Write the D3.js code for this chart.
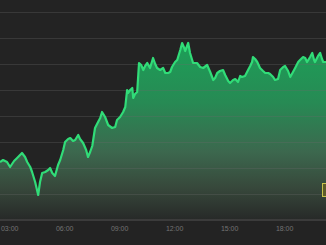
<!DOCTYPE html>
<html>
<head>
<meta charset="utf-8">
<script src="https://cdn.jsdelivr.net/npm/d3@7"></script>
<style>
  html, body { margin: 0; padding: 0; background: #232323; }
  svg { display: block; }
</style>
</head>
<body>
<svg id="chart" width="326" height="245"></svg>
<script>
// price readings (time of day, points)
var times = ["02:30","02:40","02:53","03:03","03:16","03:26","03:42","03:52","03:59","04:09",
  "04:15","04:25","04:35","04:41","04:48","04:58","05:08","05:14","05:21","05:30",
  "05:40","05:47","05:57","06:03","06:13","06:20","06:29","06:36","06:46","06:52",
  "07:02","07:12","07:18","07:25","07:32","07:41","07:51","07:58","08:04","08:14",
  "08:24","08:37","08:47","08:53","09:03","09:13","09:20","09:26","09:29","09:36",
  "09:43","09:46","09:52","09:59","10:05","10:12","10:19","10:25","10:32","10:41",
  "10:51","10:58","11:04","11:14","11:24","11:31","11:40","11:47","11:53","12:03",
  "12:10","12:20","12:26","12:33","12:36","12:46","12:52","13:02","13:15","13:25",
  "13:35","13:48","13:58","14:08","14:14","14:21","14:30","14:40","14:47","14:57",
  "15:03","15:13","15:20","15:29","15:36","15:42","15:52","16:02","16:09","16:15",
  "16:18","16:25","16:32","16:41","16:51","16:58","17:08","17:14","17:24","17:30",
  "17:40","17:47","17:57","18:03","18:13","18:20","18:29","18:36","18:46","18:52",
  "19:02","19:09","19:15","19:25","19:32","19:38","19:41","19:51","19:58","20:04",
  "20:08","20:17"];

var prices = [58,60,58,53,59,62,67,63,58,53,
  48,38,25,38,47,48,50,52,47,44,
  55,60,70,78,81,82,79,80,85,81,
  77,70,63,68,74,92,98,102,108,103,
  95,92,93,100,103,108,113,130,127,130,
  132,122,126,128,157,155,150,154,157,152,
  162,156,152,150,152,147,147,148,153,158,
  160,170,177,172,169,177,167,157,157,153,
  152,155,148,140,142,147,149,150,145,139,
  137,140,141,138,144,143,144,150,154,158,
  163,161,158,152,149,147,147,146,143,140,
  141,150,153,154,149,143,148,152,158,160,
  163,162,158,163,167,160,158,164,167,161,
  158,158];

var gridTicks = [26, 52, 78, 104, 130, 156, 182, 208];

var width = 326, height = 245, axisY = 220;
var parseTime = d3.timeParse("%H:%M");

var data = times.map(function (t, i) {
  return { date: parseTime(t), value: prices[i] };
});

var x = d3.scaleTime()
  .domain(d3.extent(data, function (d) { return d.date; }))
  .range([0, width]);

var y = d3.scaleLinear()
  .domain([0, 208])
  .range([axisY, 12]);

var svg = d3.select("#chart");

svg.append("rect")
  .attr("width", width).attr("height", height)
  .attr("fill", "#232323");

// gradient under the line
var defs = svg.append("defs");
var grad = defs.append("linearGradient")
  .attr("id", "fillGrad")
  .attr("gradientUnits", "userSpaceOnUse")
  .attr("x1", 0).attr("x2", 0)
  .attr("y1", y(180)).attr("y2", axisY);
grad.append("stop").attr("offset", "0%").attr("stop-color", "#1ca058");
grad.append("stop").attr("offset", "35%").attr("stop-color", "#278a54");
grad.append("stop").attr("offset", "62%").attr("stop-color", "#3c684e");
grad.append("stop").attr("offset", "82%").attr("stop-color", "#37483b");
grad.append("stop").attr("offset", "100%").attr("stop-color", "#272928");

// area
var area = d3.area()
  .x(function (d) { return x(d.date); })
  .y0(axisY)
  .y1(function (d) { return y(d.value); });

svg.append("path")
  .datum(data)
  .attr("d", area)
  .attr("fill", "url(#fillGrad)");

// grid lines drawn over the fill
svg.append("g")
  .selectAll("line")
  .data(gridTicks)
  .enter()
  .append("line")
  .attr("x1", 0).attr("x2", width)
  .attr("y1", function (d) { return Math.round(y(d)) + 0.5; })
  .attr("y2", function (d) { return Math.round(y(d)) + 0.5; })
  .attr("stroke", "#6a6a6a")
  .attr("stroke-opacity", 0.3)
  .attr("stroke-width", 1);

// price line
var line = d3.line()
  .x(function (d) { return x(d.date); })
  .y(function (d) { return y(d.value); });

svg.append("path")
  .datum(data)
  .attr("d", line)
  .attr("fill", "none")
  .attr("stroke", "#31dc78")
  .attr("stroke-width", 2.2)
  .attr("stroke-linejoin", "round");

// x axis
var xAxis = d3.axisBottom(x)
  .ticks(d3.timeHour.every(3))
  .tickFormat(d3.timeFormat("%H:%M"))
  .tickSize(0)
  .tickPadding(6);

var gx = svg.append("g")
  .attr("transform", "translate(0," + axisY + ")")
  .call(xAxis);

gx.select(".domain")
  .attr("d", "M0,0H" + width)
  .attr("stroke", "#3b3b3b")
  .attr("stroke-width", 2);

gx.selectAll("text")
  .attr("fill", "#737373")
  .style("font-family", "'Liberation Sans', Arial, sans-serif")
  .style("font-size", "7px");

// current price tag at right edge (mostly cut off)
svg.append("rect")
  .attr("x", 322.5).attr("y", 183.5)
  .attr("width", 10).attr("height", 13)
  .attr("fill", "#5d5b2a")
  .attr("stroke", "#c8c24c")
  .attr("stroke-width", 1);
</script>
</body>
</html>
